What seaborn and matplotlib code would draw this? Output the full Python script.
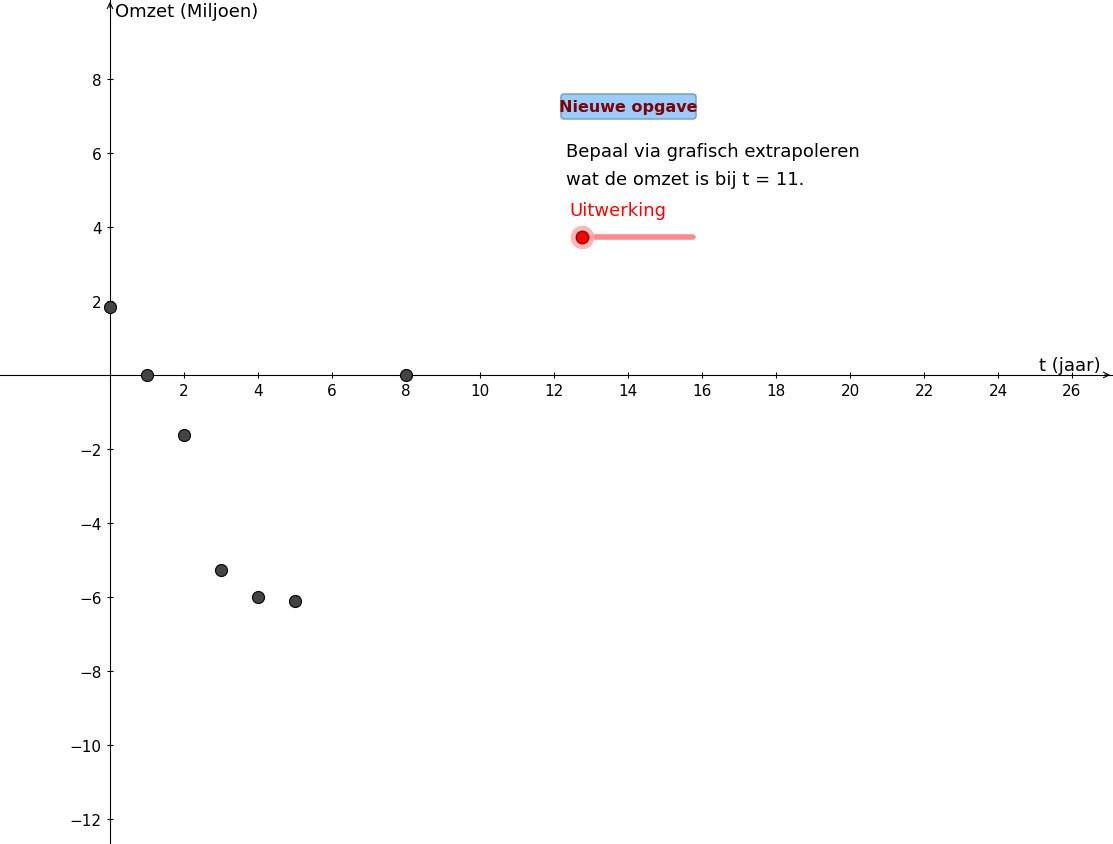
import matplotlib
matplotlib.use("Agg")
import matplotlib.pyplot as plt
import seaborn as sns
import pandas as pd
from matplotlib.patches import FancyBboxPatch

# ── Data ──────────────────────────────────────────────────────────────────────
t_values = [0, 1, 2, 3, 4, 5, 8]
omzet_values = [1.85, 0.0, -1.62, -5.28, -6.0, -6.12, 0.0]
x_ticks = [2, 4, 6, 8, 10, 12, 14, 16, 18, 20, 22, 24, 26]
y_ticks = [-12, -10, -8, -6, -4, -2, 2, 4, 6, 8]

W, H = 1113, 845
fig = plt.figure(figsize=(W / 100, H / 100), dpi=100)
ax = fig.add_axes([0, 0, 1, 1])

# pixel mapping: 37 px per unit, origin at (110, 376)
ax.set_xlim(-110 / 37, (W - 110) / 37)
ax.set_ylim(-(H - 376) / 37, 376 / 37)

df = pd.DataFrame({"t": t_values, "omzet": omzet_values})
sns.scatterplot(data=df, x="t", y="omzet", ax=ax, s=75, color="#444444",
                edgecolor="black", linewidth=0.8, zorder=5, clip_on=False)

for side in ["top", "right"]:
    ax.spines[side].set_visible(False)
ax.spines["left"].set_position(("data", 0))
ax.spines["bottom"].set_position(("data", 0))
ax.spines["left"].set_linewidth(0.8)
ax.spines["bottom"].set_linewidth(0.8)
ax.set_xticks(x_ticks)
ax.set_yticks(y_ticks)
ax.tick_params(labelsize=11, direction="inout", length=5)
ax.set_xlabel("")
ax.set_ylabel("")

# axis arrows
xmax = ax.get_xlim()[1]
ymax = ax.get_ylim()[1]
ax.annotate("", xy=(xmax, 0), xytext=(xmax - 0.3, 0),
            arrowprops=dict(arrowstyle="->", lw=0.8), annotation_clip=False)
ax.annotate("", xy=(0, ymax), xytext=(0, ymax - 0.3),
            arrowprops=dict(arrowstyle="->", lw=0.8), annotation_clip=False)

def px(x, y):
    return x / W, 1 - y / H

fig.text(*px(1101, 366), "t (jaar)", ha="right", va="center", fontsize=13)
fig.text(*px(115, 12), "Omzet (Miljoen)", ha="left", va="center", fontsize=13)

# button
bx, by = px(561, 120)
bw, bh = 135 / W, 25 / H
fig.patches.append(FancyBboxPatch((bx, by), bw, bh, boxstyle="round,pad=0,rounding_size=0.003",
                                  transform=fig.transFigure, facecolor="#99ccff",
                                  edgecolor="#7799bb", linewidth=1))
fig.text(bx + bw / 2, by + bh / 2, "Nieuwe opgave", ha="center", va="center",
         fontsize=11.5, fontweight="bold", color="#800000")

fig.text(*px(566, 152), "Bepaal via grafisch extrapoleren", ha="left", va="center", fontsize=13)
fig.text(*px(566, 180), "wat de omzet is bij t = 11.", ha="left", va="center", fontsize=13)
fig.text(*px(569, 211), "Uitwerking", ha="left", va="center", fontsize=13, color="red")

# slider
sx0, sy = px(582, 238)
sx1, _ = px(693, 238)
fig.lines.append(plt.Line2D([sx0, sx1], [sy, sy], transform=fig.transFigure,
                            color="#ff8888", lw=4, solid_capstyle="round"))
fig.lines.append(plt.Line2D([sx0], [sy], transform=fig.transFigure, marker="o",
                            markersize=16, color="#ffaaaa", alpha=0.8, linestyle=""))
fig.lines.append(plt.Line2D([sx0], [sy], transform=fig.transFigure, marker="o",
                            markersize=9, markerfacecolor="red", markeredgecolor="#990000",
                            linestyle=""))

fig.savefig("out.png", dpi=100)
